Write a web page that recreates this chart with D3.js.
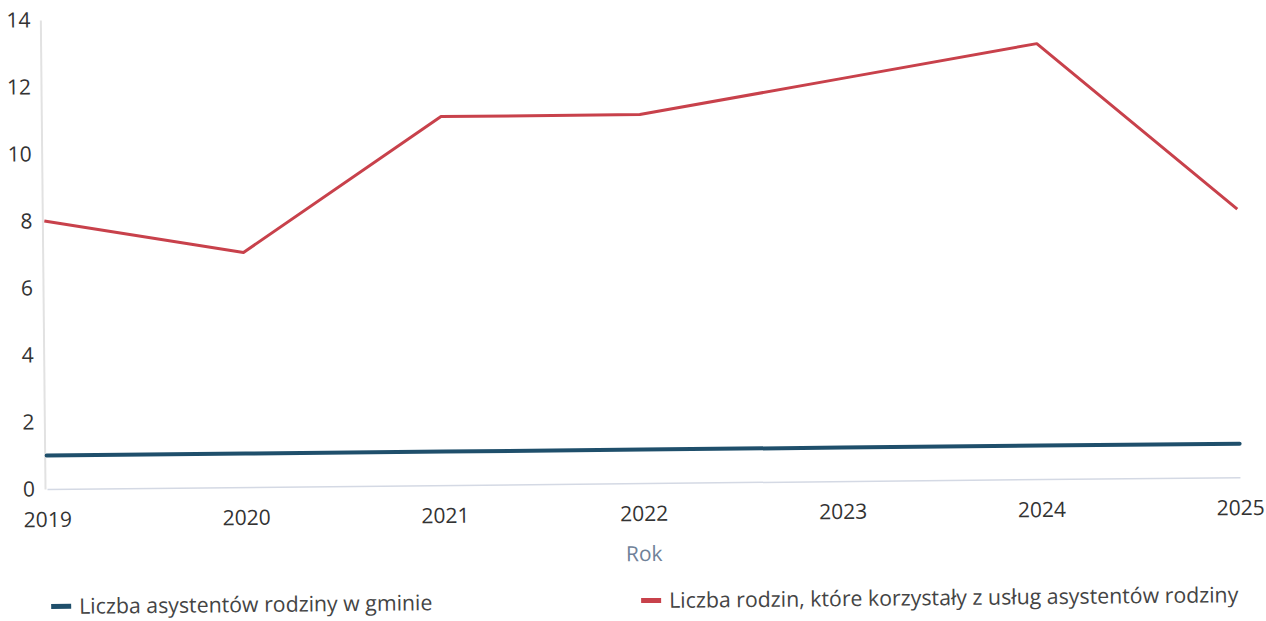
<!DOCTYPE html>
<html>
<head>
<meta charset="utf-8">
<script src="https://cdn.jsdelivr.net/npm/d3@7"></script>
<style>
  body { margin: 0; background: #fff; }
  svg { display: block; font-family: "Open Sans", "Noto Sans", sans-serif; }
</style>
</head>
<body>
<script>
const years = ["2019", "2020", "2021", "2022", "2023", "2024", "2025"];
const asystenci = [1, 1, 1, 1, 1, 1, 1];
const rodziny = [8, 7, 11, 11, 12, 13, 8];
const yTicks = [0, 2, 4, 6, 8, 10, 12, 14];
const seriesNames = ["Liczba asystentów rodziny w gminie", "Liczba rodzin, które korzystały z usług asystentów rodziny"];
const seriesColors = ["#1f4f6b", "#c8414b"];

const w = 1266;
const h = 621;
const plotLeft = 47, plotRight = 1240, plotTop = 20, plotBottom = 489;
const font = "'Open Sans', 'Noto Sans', sans-serif";

const svg = d3.select("body")
  .append("svg")
  .attr("width", w)
  .attr("height", h);

// the scan is slightly tilted, so the whole chart is rotated a bit
const g = svg.append("g")
  .attr("transform", "rotate(-0.57," + plotLeft + "," + plotBottom + ")");

const x = d3.scalePoint()
  .domain(years)
  .range([plotLeft, plotRight]);

const y = d3.scaleLinear()
  .domain([0, 14])
  .range([plotBottom, plotTop]);

// y axis
const yAxis = g.append("g")
  .attr("transform", "translate(" + (plotLeft - 2) + ",0)")
  .call(d3.axisLeft(y).tickValues(yTicks).tickSize(0).tickPadding(10))
  .attr("font-family", font);
yAxis.select(".domain").attr("stroke", "#e2e2e2").attr("stroke-width", 2);
yAxis.selectAll("text")
  .attr("fill", "#333")
  .style("font-size", "21px");

// x axis
const xAxis = g.append("g")
  .attr("transform", "translate(0," + plotBottom + ")")
  .call(d3.axisBottom(x).tickSize(0).tickPadding(23))
  .attr("font-family", font);
xAxis.select(".domain").attr("stroke", "#d4d9e4").attr("stroke-width", 1.5);
xAxis.selectAll("text")
  .attr("fill", "#333")
  .style("font-size", "21px");

g.append("text")
  .attr("x", (plotLeft + plotRight) / 2)
  .attr("y", 567)
  .attr("text-anchor", "middle")
  .attr("fill", "#6f8299")
  .style("font-size", "21px")
  .text("Rok");

const line = d3.line()
  .x((d, i) => x(years[i]))
  .y(d => y(d));

g.append("path")
  .datum(asystenci)
  .attr("d", line)
  .attr("fill", "none")
  .attr("stroke", seriesColors[0])
  .attr("stroke-width", 4)
  .attr("stroke-linecap", "round");

g.append("path")
  .datum(rodziny)
  .attr("d", line)
  .attr("fill", "none")
  .attr("stroke", seriesColors[1])
  .attr("stroke-width", 3)
  .attr("stroke-linejoin", "round");

// legend
const legendX = [50, 640];
const legend = g.selectAll(".legend")
  .data(seriesNames)
  .enter()
  .append("g")
  .attr("class", "legend")
  .attr("transform", (d, i) => "translate(" + legendX[i] + ",607)");

legend.append("rect")
  .attr("x", 0)
  .attr("y", -3)
  .attr("width", 20)
  .attr("height", 5)
  .attr("fill", (d, i) => seriesColors[i]);

legend.append("text")
  .attr("x", 28)
  .attr("y", 7)
  .attr("fill", "#444")
  .style("font-size", "21.3px")
  .text(d => d);
</script>
</body>
</html>
